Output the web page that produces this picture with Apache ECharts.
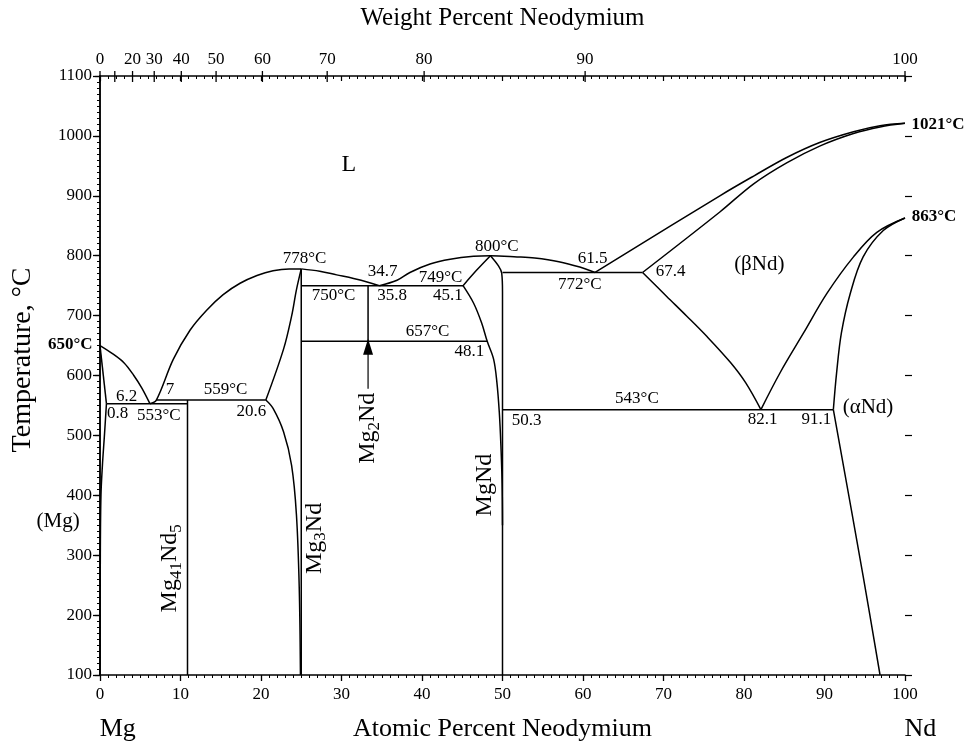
<!DOCTYPE html>
<html>
<head>
<meta charset="utf-8">
<script src="https://cdn.jsdelivr.net/npm/echarts@6/dist/echarts.min.js"></script>
<style>
html, body { margin: 0; background: #fff; }
#chart { width: 966px; height: 747px; }
</style>
</head>
<body>
<div id="chart"></div>
<script>
// Mg-Nd phase diagram, x = at.% Nd, y = temperature in C
var FONT = 'Liberation Serif';

// weight percent scale on top
var wtTicks = [0, 10, 20, 30, 40, 50, 60, 70, 80, 90, 100];
var wtLabels = ['0', '', '20', '30', '40', '50', '60', '70', '80', '90', '100'];

// phase boundaries [at.% Nd, T]
var mgLiquidus = [[0, 650], [1.5, 637], [3, 621], [4.2, 600], [5.2, 579], [6.2, 553]];
var mgSolidus = [[0, 650], [0.8, 553]];
var mgSolvus = [[0.8, 553], [0.55, 500], [0.3, 450], [0.12, 400], [0.04, 300], [0, 100]];
var mg3NdLiqLeft = [[6.2, 553], [7, 559], [9.1, 627], [11.2, 676], [13.25, 709], [15.3, 735], [17.4, 754], [19.5, 767], [21.5, 775], [23.5, 778], [25, 778]];
var mg3NdLiqRight = [[25, 778], [27.3, 774], [29.4, 768], [31.5, 762], [33.5, 755], [34.7, 750]];
var mgNdLiquidus = [[34.7, 750], [36.9, 759], [38.5, 772], [41, 786], [43.5, 794], [46.4, 799], [48.5, 800], [51.8, 798], [54, 796], [57, 790], [59.6, 781], [61.5, 772]];
var mg3NdHigh = [[20.6, 559], [22.8, 644], [23.8, 699], [24.4, 743], [25, 778]];
var mg3NdLow = [[20.6, 559], [21.5, 545], [22.8, 506], [23.8, 450], [24.4, 368], [24.75, 246], [24.9, 100]];
var mg3NdRight = [[25, 778], [25, 100]];
var mg41Nd5 = [[10.87, 559], [10.87, 100]];
var mg2Nd = [[33.3, 750], [33.3, 657]];
var mgNdLeftHigh = [[45.1, 750], [46.8, 776], [48.5, 800]];
var mgNdLeftLow = [[45.1, 750], [46.4, 721], [47.4, 688], [48.1, 657], [48.9, 627], [49.3, 589], [49.6, 539], [49.8, 484], [49.95, 420], [50, 350]];
var mgNdRight = [[48.5, 800], [49.5, 783], [49.9, 771], [50, 740], [50, 100]];
var ndLiquidus = [[61.5, 772], [77, 900], [81.2, 933], [85.3, 964], [89.4, 989], [93.6, 1007], [96.9, 1017], [100, 1021]];
var ndSolidus = [[67.4, 772], [77, 873], [81.2, 920], [85.3, 955], [89.4, 983], [93.6, 1004], [96.9, 1015], [100, 1021]];
var betaLow = [[67.4, 772], [70.4, 732], [72.9, 699], [75.4, 665], [78.3, 622], [80.2, 588], [82.1, 543]];
var betaHigh = [[82.1, 543], [84.5, 605], [87.4, 671], [90.3, 737], [93.6, 798], [96.5, 839], [100, 863]];
var alphaHigh = [[91.1, 543], [91.5, 604], [92.1, 671], [93.2, 737], [94.8, 798], [97.3, 842], [100, 863]];
var alphaSolvus = [[91.1, 543], [94.8, 265], [96.9, 100]];

// invariant lines
var line553 = [[0.8, 553], [10.87, 553]];
var line559 = [[7, 559], [20.6, 559]];
var line750 = [[25, 750], [45.1, 750]];
var line657 = [[25, 657], [48.1, 657]];
var line772 = [[50, 772], [67.4, 772]];
var line543 = [[50, 543], [91.1, 543]];

var arrowMg2Nd = [[33.3, 578], [33.3, 648]];

// text labels [x, T, text, kind]
var labels = [
    [30.9, 952, 'L', 'big'],
    [25.4, 796, '778°C'],
    [35.1, 774, '34.7'],
    [42.3, 763, '749°C'],
    [49.3, 815, '800°C'],
    [61.2, 795, '61.5'],
    [29.0, 734, '750°C'],
    [36.3, 734, '35.8'],
    [43.2, 734, '45.1'],
    [40.7, 674, '657°C'],
    [45.9, 640, '48.1'],
    [59.6, 752, '772°C'],
    [70.9, 773, '67.4'],
    [81.9, 786, '(βNd)', 'mid'],
    [66.7, 561, '543°C'],
    [53.0, 525, '50.3'],
    [82.3, 526, '82.1'],
    [89.0, 526, '91.1'],
    [95.4, 546, '(αNd)', 'mid'],
    [3.3, 565, '6.2'],
    [8.7, 576, '7'],
    [15.6, 576, '559°C'],
    [2.2, 537, '0.8'],
    [7.3, 534, '553°C'],
    [18.8, 540, '20.6'],
    [-3.7, 651, '650°C', 'bold'],
    [104.1, 1019, '1021°C', 'bold'],
    [103.6, 866, '863°C', 'bold'],
    [-5.2, 356, '(Mg)', 'mid'],
    [8.7, 278, '{n|Mg}{s|41}{n|Nd}{s|5}', 'rot'],
    [26.7, 328, '{n|Mg}{s|3}{n|Nd}', 'rot'],
    [33.3, 512, '{n|Mg}{s|2}{n|Nd}', 'rot'],
    [47.8, 417, '{n|MgNd}', 'rot'],
    [2.2, 9, 'Mg', 'axis'],
    [101.9, 9, 'Nd', 'axis'],
    [-9.6, 626, 'Temperature, °C', 'yname']
];

function wtToAt(w) {
    var a = w / 144.24, b = (100 - w) / 24.305;
    return 100 * a / (a + b);
}

var myChart = echarts.init(document.getElementById('chart'));

var curves = [
    [mgLiquidus, true], [mgSolidus, false], [mgSolvus, true],
    [mg3NdLiqLeft, true], [mg3NdLiqRight, true], [mgNdLiquidus, true],
    [mg3NdHigh, true], [mg3NdLow, true], [mg3NdRight, false],
    [mg41Nd5, false], [mg2Nd, false],
    [mgNdLeftHigh, true], [mgNdLeftLow, true], [mgNdRight, true],
    [ndLiquidus, true], [ndSolidus, true], [betaLow, true], [betaHigh, true],
    [alphaHigh, true], [alphaSolvus, true],
    [line553, false], [line559, false], [line750, false], [line657, false],
    [line772, false], [line543, false]
];

var series = [];
for (var i = 0; i < curves.length; i++) {
    series.push({
        type: 'line',
        data: curves[i][0],
        smooth: curves[i][1] ? 0.35 : false,
        showSymbol: false,
        symbol: 'none',
        silent: true,
        lineStyle: { color: '#000', width: 1.5 }
    });
}

// arrow pointing at Mg2Nd
series.push({
    type: 'line',
    data: [
        { value: arrowMg2Nd[0], symbol: 'none' },
        { value: arrowMg2Nd[1], symbol: 'triangle', symbolSize: [10, 16] }
    ],
    itemStyle: { color: '#000' },
    lineStyle: { color: '#000', width: 1.2 }
});

// weight percent ticks on top axis
series.push({
    type: 'custom',
    clip: false,
    silent: true,
    data: wtTicks.map(function (w) { return [wtToAt(w), 1100]; }),
    renderItem: function (params, api) {
        var p = api.coord([api.value(0), api.value(1)]);
        return {
            type: 'group',
            children: [
                { type: 'line', shape: { x1: p[0], y1: p[1] - 5, x2: p[0], y2: p[1] + 6 }, style: { stroke: '#000', lineWidth: 1.3 } },
                { type: 'text', x: p[0], y: p[1] - 8, style: { text: wtLabels[params.dataIndex], fill: '#000', fontSize: 17, fontFamily: FONT, align: 'center', verticalAlign: 'bottom' } }
            ]
        };
    }
});

// annotations
series.push({
    type: 'custom',
    clip: false,
    silent: true,
    data: labels.map(function (l) { return [l[0], l[1]]; }),
    renderItem: function (params, api) {
        var p = api.coord([api.value(0), api.value(1)]);
        var l = labels[params.dataIndex];
        var kind = l[3];
        var size = 17, weight = 'normal', rot = 0;
        if (kind === 'big') size = 24;
        if (kind === 'mid') size = 21;
        if (kind === 'axis') size = 26;
        if (kind === 'bold') { size = 17; weight = 'bold'; }
        if (kind === 'rot') { size = 24; rot = Math.PI / 2; }
        if (kind === 'yname') { size = 28; rot = Math.PI / 2; }
        return {
            type: 'text',
            x: p[0], y: p[1],
            rotation: rot,
            style: {
                text: l[2], fill: '#000', fontSize: size, fontWeight: weight, fontFamily: FONT,
                align: 'center', verticalAlign: 'middle',
                rich: {
                    n: { fontSize: 24, fontFamily: FONT, fill: '#000' },
                    s: { fontSize: 17, fontFamily: FONT, fill: '#000', padding: [12, 0, 0, 0] }
                }
            }
        };
    }
});

var blackLine = { show: true, lineStyle: { color: '#000', width: 1.5 } };

var option = {
    animation: false,
    backgroundColor: '#fff',
    grid: { left: 100, right: 61, top: 76, bottom: 68 },
    xAxis: [{
        type: 'value', position: 'bottom', min: 0, max: 100, interval: 10,
        name: 'Atomic Percent Neodymium', nameLocation: 'middle', nameGap: 41,
        nameTextStyle: { color: '#000', fontSize: 26, fontFamily: FONT },
        axisLine: blackLine,
        axisTick: { show: true, length: 6, lineStyle: { color: '#000', width: 1.3 } },
        minorTick: { show: true, splitNumber: 10, length: 3, lineStyle: { color: '#000', width: 1 } },
        axisLabel: { show: true, margin: 11, color: '#000', fontSize: 17, fontFamily: FONT },
        splitLine: { show: false }
    }, {
        type: 'value', position: 'top', min: 0, max: 100, interval: 10,
        name: 'Weight Percent Neodymium', nameLocation: 'middle', nameGap: 45,
        nameTextStyle: { color: '#000', fontSize: 25, fontFamily: FONT },
        axisLine: blackLine,
        axisTick: { show: true, inside: true, length: 5, lineStyle: { color: '#000', width: 1.2 } },
        minorTick: { show: true, splitNumber: 10, length: 3, lineStyle: { color: '#000', width: 1 } },
        axisLabel: { show: false },
        splitLine: { show: false }
    }],
    yAxis: [{
        type: 'value', position: 'left', min: 100, max: 1100, interval: 100,
        axisLine: blackLine,
        axisTick: { show: true, length: 7, lineStyle: { color: '#000', width: 1.3 } },
        minorTick: { show: true, splitNumber: 10, length: 3, lineStyle: { color: '#000', width: 1 } },
        axisLabel: {
            show: true, margin: 8, color: '#000', fontSize: 17, fontFamily: FONT,
            formatter: function (v) { return String(v); }
        },
        splitLine: { show: false }
    }, {
        type: 'value', position: 'right', min: 100, max: 1100, interval: 100,
        axisLine: blackLine,
        axisTick: { show: true, inside: true, length: 5, lineStyle: { color: '#000', width: 1.2 } },
        minorTick: { show: true, splitNumber: 10, length: 3, lineStyle: { color: '#000', width: 1 } },
        axisLabel: { show: false },
        splitLine: { show: false }
    }, {
        type: 'value', position: 'right', min: 100, max: 1100, interval: 100,
        axisLine: { show: false },
        axisTick: { show: true, length: 7, lineStyle: { color: '#000', width: 1.2 } },
        axisLabel: { show: false },
        splitLine: { show: false }
    }],
    series: series
};

myChart.setOption(option);
</script>
</body>
</html>
